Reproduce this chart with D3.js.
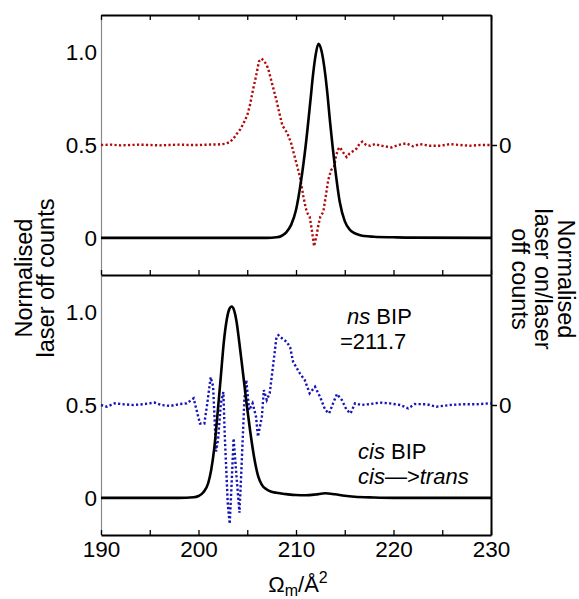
<!DOCTYPE html>
<html><head><meta charset="utf-8">
<script src="https://cdn.jsdelivr.net/npm/d3@7"></script>
<style>
body{margin:0;background:#fff}
text{font-family:"Liberation Sans",Arial,Helvetica,sans-serif;fill:#000}
</style>
</head><body>
<svg id="chart" width="579" height="599"></svg>
<script>
// ---------- data ----------
const xTickValues = [190, 200, 210, 220, 230];
const xMinorTickValues = [190, 195, 200, 205, 210, 215, 220, 225, 230];
const leftTickValues = [0, 0.5, 1.0];
const leftTickLabels = ["0", "0.5", "1.0"];
const rightTickValues = [0];
const rightTickLabels = ["0"];

// top panel: laser off counts (solid black)
const topOffX = [190, 200, 207, 208, 208.5, 209, 209.5, 210, 210.5, 211, 211.5, 211.75, 212, 212.3, 212.6, 213, 213.25, 213.5, 214, 214.5, 215, 215.5, 216, 216.5, 217, 218, 220, 222, 230];
const topOffY = [0, 0, 0, 0.003, 0.01, 0.03, 0.07, 0.15, 0.3, 0.5, 0.75, 0.88, 0.98, 1.045, 1.01, 0.88, 0.76, 0.62, 0.38, 0.19, 0.09, 0.045, 0.025, 0.015, 0.01, 0.006, 0.003, 0.001, 0];

// top panel: laser on / laser off (red dotted, right axis)
const topRatioX = [190, 191, 192, 193, 194, 195, 196, 197, 198, 199, 200, 201, 202, 202.7, 203.2, 203.6, 203.9, 204.3, 204.6, 205.0, 205.3, 205.6, 205.9, 206.2, 206.45, 206.7, 207.0, 207.2, 207.5, 207.7, 208.0, 208.3, 208.6, 209.1, 209.5, 210.0, 210.4, 210.75, 211.0, 211.2, 211.4, 211.6, 211.85, 212.1, 212.3, 212.5, 212.8, 213.1, 213.3, 213.6, 213.9, 214.1, 214.3, 214.5, 214.9, 215.2, 215.5, 215.8, 216.2, 216.5, 216.8, 217.2, 217.6, 218.1, 218.6, 219.0, 219.8, 220.5, 221.3, 222.0, 222.7, 223.7, 224.8, 225.8, 226.8, 227.8, 228.9, 230];
const topRatioY = [0, 0.002, -0.002, 0, 0.002, 0, -0.002, 0, 0.002, 0, 0, 0.002, 0.003, 0.006, 0.015, 0.035, 0.058, 0.085, 0.115, 0.16, 0.22, 0.3, 0.37, 0.45, 0.465, 0.455, 0.43, 0.40, 0.34, 0.30, 0.24, 0.17, 0.105, 0.065, 0.01, -0.09, -0.17, -0.275, -0.34, -0.37, -0.385, -0.45, -0.545, -0.49, -0.43, -0.385, -0.36, -0.26, -0.19, -0.135, -0.12, -0.06, -0.025, -0.012, -0.045, -0.065, -0.045, -0.035, -0.02, 0.005, 0.018, 0.0, -0.004, 0.005, -0.003, -0.006, -0.013, 0.0, 0.009, -0.007, 0.005, -0.004, -0.004, 0.005, 0, -0.004, 0, 0];

// bottom panel: laser off counts (solid black)
const botOffX = [190, 198, 199.5, 200, 200.5, 201, 201.3, 201.6, 202, 202.3, 202.6, 202.9, 203.15, 203.4, 203.65, 203.9, 204.2, 204.5, 204.95, 205.3, 205.7, 206.1, 206.5, 207, 207.5, 208, 209, 210, 211, 212, 213, 214, 215, 216, 218, 220, 230];
const botOffY = [0, 0, 0.003, 0.01, 0.03, 0.08, 0.15, 0.26, 0.48, 0.66, 0.84, 0.96, 1.015, 1.03, 1.01, 0.95, 0.83, 0.7, 0.5, 0.36, 0.22, 0.12, 0.07, 0.045, 0.033, 0.027, 0.02, 0.015, 0.014, 0.018, 0.025, 0.019, 0.011, 0.006, 0.002, 0, 0];

// bottom panel: laser on / laser off (blue dotted, right axis)
const botRatioX = [190, 190.6, 191.4, 192.3, 193.3, 194.3, 195.5, 196.2, 197.1, 198.1, 198.8, 199.5, 199.8, 200.15, 200.6, 200.9, 201.25, 201.5, 201.8, 202.0, 202.3, 202.55, 202.7, 203.0, 203.2, 203.4, 203.6, 203.9, 204.2, 204.4, 204.7, 204.9, 205.2, 205.55, 205.9, 206.1, 206.5, 206.7, 207.0, 207.3, 207.6, 208.0, 208.2, 208.36, 209.05, 209.4, 209.7, 210.4, 210.9, 211.4, 211.95, 212.46, 213.0, 213.4, 213.8, 214.2, 214.7, 215.2, 215.6, 216.05, 216.7, 217.6, 218.6, 219.6, 220.7, 221.5, 222.2, 223.4, 224.4, 225.8, 227.2, 228.5, 230];
const botRatioY = [0, -0.009, 0.009, 0.004, 0, 0.004, 0.013, 0, -0.005, 0.005, 0.009, 0.036, -0.027, -0.1, -0.1, 0.009, 0.15, 0.1, -0.25, -0.19, 0.01, 0.07, -0.17, -0.53, -0.64, -0.42, -0.18, -0.385, -0.58, -0.35, 0.027, 0.134, -0.027, 0.009, -0.063, -0.17, -0.063, 0.08, 0.027, 0.063, 0.19, 0.367, 0.376, 0.367, 0.34, 0.31, 0.233, 0.17, 0.134, 0.063, 0.098, 0.045, -0.027, -0.045, 0.009, 0.059, 0.027, -0.027, -0.045, 0.009, 0, 0.005, 0.013, 0.009, 0, -0.018, 0.005, 0.004, -0.009, 0, 0.004, 0.004, 0.009];

// ---------- layout ----------
const svg = d3.select("#chart");
const L = 101, R = 491, T = 15, MID = 275, B = 535;
const x = d3.scaleLinear([190, 230], [L, R]);
const yTop = d3.scaleLinear([-0.2, 1.2], [MID, T]);
const yBot = d3.scaleLinear([-0.2, 1.2], [B, MID]);
const yTopR = d3.scaleLinear([-0.7, 0.7], [MID, T]);
const yBotR = d3.scaleLinear([-0.7, 0.7], [B, MID]);
const tickFont = "22.5px";

function zip(a, b) { return a.map((v, i) => [v, b[i]]); }

// left axes (gray line, labels only)
[yTop, yBot].forEach(ys => {
  const g = svg.append("g").attr("transform", `translate(${L},0)`)
    .call(d3.axisLeft(ys).tickValues(leftTickValues)
      .tickFormat((d, i) => leftTickLabels[i]).tickSize(0).tickPadding(4).tickSizeOuter(0));
  g.select(".domain").attr("stroke", "#8a8a8a").attr("stroke-width", 1.2);
  g.selectAll("text").style("font-size", tickFont).attr("font-family", null);
});

// right axes
[yTopR, yBotR].forEach(ys => {
  const g = svg.append("g").attr("transform", `translate(${R},0)`)
    .call(d3.axisRight(ys).tickValues(rightTickValues)
      .tickFormat((d, i) => rightTickLabels[i]).tickSize(6).tickPadding(2).tickSizeOuter(0));
  g.select(".domain").attr("stroke", "#000").attr("stroke-width", 2);
  g.selectAll(".tick line").attr("stroke-width", 1.5);
  g.selectAll("text").style("font-size", tickFont).attr("font-family", null);
});

// top border with inward ticks
const gTopB = svg.append("g").attr("transform", `translate(0,${T})`)
  .call(d3.axisBottom(x).tickValues(xMinorTickValues).tickFormat("").tickSize(5).tickSizeOuter(0));
gTopB.select(".domain").attr("stroke-width", 1.8);
gTopB.selectAll(".tick line").attr("stroke-width", 1.3);

// separator with ticks pointing up
const gMid = svg.append("g").attr("transform", `translate(0,${MID})`)
  .call(d3.axisTop(x).tickValues(xMinorTickValues).tickFormat("").tickSize(5).tickSizeOuter(0));
gMid.select(".domain").attr("stroke-width", 1.8);
gMid.selectAll(".tick line").attr("stroke-width", 1.3);

// bottom axis: inward minor ticks + labels
const gBot = svg.append("g").attr("transform", `translate(0,${B})`)
  .call(d3.axisBottom(x).tickValues(xMinorTickValues)
    .tickFormat(d => xTickValues.includes(d) ? String(d) : "")
    .tickSizeInner(-5).tickSizeOuter(0).tickPadding(6));
gBot.select(".domain").attr("stroke-width", 2);
gBot.selectAll(".tick line").attr("stroke-width", 1.3);
gBot.selectAll("text").style("font-size", tickFont).attr("font-family", null);

// curves
const lineTop = d3.line().x(d => x(d[0])).y(d => yTop(d[1])).curve(d3.curveMonotoneX);
const lineBot = d3.line().x(d => x(d[0])).y(d => yBot(d[1])).curve(d3.curveMonotoneX);
const lineTopR = d3.line().x(d => x(d[0])).y(d => yTopR(d[1]));
const lineBotR = d3.line().x(d => x(d[0])).y(d => yBotR(d[1]));

svg.append("path").attr("d", lineTopR(zip(topRatioX, topRatioY)))
  .attr("fill", "none").attr("stroke", "#b00a0a").attr("stroke-width", 2.4).attr("stroke-dasharray", "2.2,2.3");
svg.append("path").attr("d", lineTop(zip(topOffX, topOffY)))
  .attr("fill", "none").attr("stroke", "#000").attr("stroke-width", 2.6);

svg.append("path").attr("d", lineBotR(zip(botRatioX, botRatioY)))
  .attr("fill", "none").attr("stroke", "#1414b8").attr("stroke-width", 2.4).attr("stroke-dasharray", "2.2,2.3");
svg.append("path").attr("d", lineBot(zip(botOffX, botOffY)))
  .attr("fill", "none").attr("stroke", "#000").attr("stroke-width", 2.6);

// annotations
const annFont = "22px";
const a1 = svg.append("text").attr("x", 347).attr("y", 324).style("font-size", annFont);
a1.append("tspan").style("font-style", "italic").text("ns");
a1.append("tspan").text(" BIP");
svg.append("text").attr("x", 340).attr("y", 349).style("font-size", annFont).text("=211.7");
const a2 = svg.append("text").attr("x", 358).attr("y", 459).style("font-size", annFont);
a2.append("tspan").style("font-style", "italic").text("cis");
a2.append("tspan").text(" BIP");
const a3 = svg.append("text").attr("x", 358).attr("y", 484).style("font-size", annFont);
a3.append("tspan").style("font-style", "italic").text("cis");
a3.append("tspan").text("\u2014>");
a3.append("tspan").style("font-style", "italic").text("trans");

// left title
const lt = svg.append("text").attr("transform", "rotate(-90)").attr("text-anchor", "middle").style("font-size", "23.5px");
lt.append("tspan").attr("x", -278).attr("y", 32).text("Normalised");
lt.append("tspan").attr("x", -278).attr("y", 54).text("laser off counts");

// right title
const rt = svg.append("text").attr("transform", "rotate(90)").attr("text-anchor", "middle").style("font-size", "23.5px");
rt.append("tspan").attr("x", 279).attr("y", -558).text("Normalised");
rt.append("tspan").attr("x", 279).attr("y", -535).text("laser on/laser");
rt.append("tspan").attr("x", 279).attr("y", -512).text("off counts");

// x title
const xt = svg.append("text").attr("x", 298).attr("y", 592).attr("text-anchor", "middle").style("font-size", "22px");
xt.append("tspan").text("\u03A9");
xt.append("tspan").attr("dy", 4).style("font-size", "16px").text("m");
xt.append("tspan").attr("dy", -4).text("/\u00C5");
xt.append("tspan").attr("dy", -9).style("font-size", "16px").text("2");
</script>
</body></html>
